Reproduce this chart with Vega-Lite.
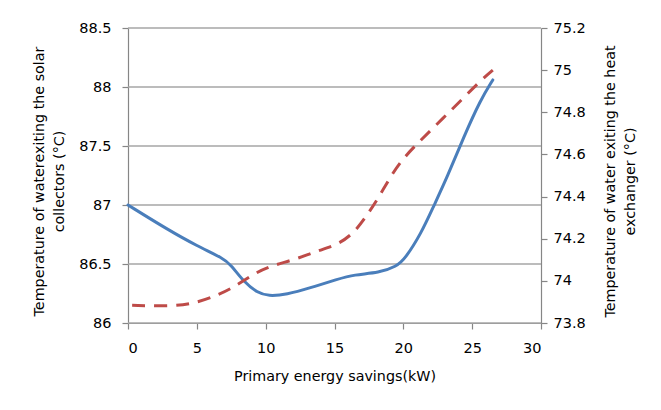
{
  "$schema": "https://vega.github.io/schema/vega-lite/v6.json",
  "width": 413,
  "height": 295,
  "autosize": {"type": "none"},
  "padding": {"left": 128, "top": 28, "right": 120, "bottom": 87},
  "background": "white",
  "config": {
    "view": {"stroke": null},
    "font": "DejaVu Sans",
    "axis": {
      "labelFont": "DejaVu Sans",
      "labelFontSize": 14.5,
      "labelColor": "#000000",
      "titleFont": "DejaVu Sans",
      "titleFontSize": 14.3,
      "titleFontWeight": "normal",
      "titleColor": "#000000",
      "titleLineHeight": 20,
      "domainColor": "#868686",
      "tickColor": "#868686",
      "tickSize": 6,
      "domainWidth": 1.2,
      "tickWidth": 1.2
    }
  },
  "datasets": {
    "solar": [
      {"x": 0, "t": 87.0},
      {"x": 2.9, "t": 86.79},
      {"x": 5.06, "t": 86.65},
      {"x": 6.9, "t": 86.55},
      {"x": 7.5, "t": 86.49},
      {"x": 8.4, "t": 86.35},
      {"x": 9.4, "t": 86.255},
      {"x": 10.2, "t": 86.228},
      {"x": 11.5, "t": 86.24},
      {"x": 13.3, "t": 86.3},
      {"x": 15.2, "t": 86.37},
      {"x": 16.4, "t": 86.41},
      {"x": 18.25, "t": 86.425},
      {"x": 19.5, "t": 86.48},
      {"x": 20.1, "t": 86.54},
      {"x": 21.3, "t": 86.76},
      {"x": 22.2, "t": 86.99},
      {"x": 23.2, "t": 87.24},
      {"x": 24.4, "t": 87.58},
      {"x": 25.6, "t": 87.89},
      {"x": 26.5, "t": 88.06}
    ],
    "hx": [
      {"x": 0.3, "t": 73.884},
      {"x": 2.9, "t": 73.879},
      {"x": 4.75, "t": 73.89},
      {"x": 6.6, "t": 73.934},
      {"x": 7.8, "t": 73.974},
      {"x": 9.05, "t": 74.03},
      {"x": 10.3, "t": 74.07},
      {"x": 12.1, "t": 74.1},
      {"x": 13.65, "t": 74.14},
      {"x": 15.2, "t": 74.17},
      {"x": 16.4, "t": 74.226},
      {"x": 17.3, "t": 74.305},
      {"x": 18.25, "t": 74.4},
      {"x": 19.2, "t": 74.51},
      {"x": 20.1, "t": 74.59},
      {"x": 21.3, "t": 74.67},
      {"x": 22.85, "t": 74.77},
      {"x": 24.4, "t": 74.87},
      {"x": 25.6, "t": 74.95},
      {"x": 26.5, "t": 75.0}
    ],
    "grid": [
      {"t": 86}, {"t": 86.5}, {"t": 87}, {"t": 87.5}, {"t": 88}, {"t": 88.5}
    ]
  },
  "layer": [
    {
      "layer": [
        {
          "data": {"name": "grid"},
          "mark": {"type": "rule", "color": "#a6a6a6", "strokeWidth": 1.5},
          "encoding": {
            "y": {
              "field": "t", "type": "quantitative",
              "scale": {"domain": [86, 88.5], "nice": false, "zero": false},
              "axis": {
                "values": [86, 86.5, 87, 87.5, 88, 88.5],
                "format": "~g",
                "grid": false,
                "labelPadding": 11,
                "title": ["Temperature of waterexiting the solar", "collectors (°C)"],
                "titleX": -82,
                "titleY": 153,
                "titleAngle": 270
              }
            }
          }
        },
        {
          "data": {"name": "solar"},
          "mark": {"type": "line", "color": "#4a7ebb", "strokeWidth": 3, "interpolate": "basis", "strokeCap": "round"},
          "encoding": {
            "x": {
              "field": "x", "type": "quantitative",
              "scale": {"domain": [0, 30], "nice": false, "zero": false},
              "axis": {"values": [0, 5, 10, 15, 20, 25, 30], "grid": false, "title": "Primary energy savings(kW)", "labelPadding": 12, "titlePadding": 15}
            },
            "y": {"field": "t", "type": "quantitative"}
          }
        }
      ]
    },
    {
      "data": {"name": "hx"},
      "mark": {"type": "line", "color": "#be4b48", "strokeWidth": 3, "interpolate": "basis", "strokeDash": [13, 9]},
      "encoding": {
        "x": {"field": "x", "type": "quantitative"},
        "y": {
          "field": "t", "type": "quantitative",
          "scale": {"domain": [73.8, 75.2], "nice": false, "zero": false},
          "axis": {
            "orient": "right",
            "values": [73.8, 74, 74.2, 74.4, 74.6, 74.8, 75, 75.2],
            "format": "~g",
            "grid": false,
            "labelPadding": 6,
            "title": ["Temperature of water  exiting the heat", "exchanger (°C)"],
            "titleX": 76,
            "titleY": 153,
            "titleAngle": 270
          }
        }
      }
    }
  ],
  "resolve": {"scale": {"y": "independent"}}
}
